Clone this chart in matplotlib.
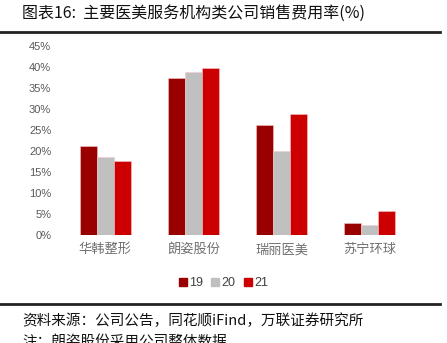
import matplotlib.pyplot as plt
import numpy as np
from matplotlib.lines import Line2D

plt.rcParams['font.family'] = ['Noto Sans CJK SC', 'DejaVu Sans']

# data
companies = ['华韩整形', '朗姿股份', '瑞丽医美', '苏宁环球']
years = ['19', '20', '21']
rate_19 = [21.2, 37.4, 26.2, 2.8]
rate_20 = [18.5, 38.9, 19.9, 2.4]
rate_21 = [17.5, 39.8, 28.9, 5.7]
colors = ['#990000', '#C0C0C0', '#CC0000']

fig = plt.figure(figsize=(4.47, 3.43), dpi=100)
ax = fig.add_axes([0.1365, 0.315, 0.7895, 0.551])

x = np.arange(len(companies))
w = 0.193
for i, (vals, c) in enumerate(zip([rate_19, rate_20, rate_21], colors)):
    ax.bar(x + (i - 1) * w, vals, width=w, color=c, edgecolor='#f0c8c8', linewidth=0.4, label=years[i])

ax.set_xlim(-0.5, len(companies) - 0.5)
ax.set_ylim(0, 45)
ax.set_yticks(range(0, 46, 5))
ax.set_yticklabels([f'{v}%' for v in range(0, 46, 5)], family='Liberation Sans')
ax.set_xticks(x)
ax.set_xticklabels(companies)
for s in ax.spines.values():
    s.set_visible(False)
ax.tick_params(axis='y', length=0, colors='#595959', labelsize=8, pad=7)
ax.tick_params(axis='x', length=0, colors='#707070', labelsize=9.5, pad=6)

handles = [Line2D([], [], marker='s', linestyle='', markersize=6, color=c) for c in colors]
fig.legend(handles, years, loc='center', bbox_to_anchor=(0.5, 1 - 283 / 343), ncol=3,
           frameon=False, prop={'family': 'Liberation Sans', 'size': 9}, handlelength=0.6,
           handletextpad=0.2, columnspacing=0.7, labelcolor='#404040')

# title and lines
fig.text(22 / 447, 1 - 13 / 343, '图表16:  主要医美服务机构类公司销售费用率(%)', fontsize=11.5,
         va='center', ha='left', color='#111111')
fig.add_artist(Line2D([0, 0.985], [1 - 32 / 343, 1 - 32 / 343], color='#222222', linewidth=2))
fig.add_artist(Line2D([0, 0.985], [1 - 304 / 343, 1 - 304 / 343], color='#222222', linewidth=2))
fig.text(22 / 447, 1 - 321 / 343, '资料来源：公司公告，同花顺iFind，万联证券研究所', fontsize=10.5,
         va='center', ha='left', color='#111111')
fig.text(22 / 447, 1 - 342 / 343, '注：朗姿股份采用公司整体数据', fontsize=10.5,
         va='center', ha='left', color='#111111')

fig.savefig('out.png', dpi=100)
